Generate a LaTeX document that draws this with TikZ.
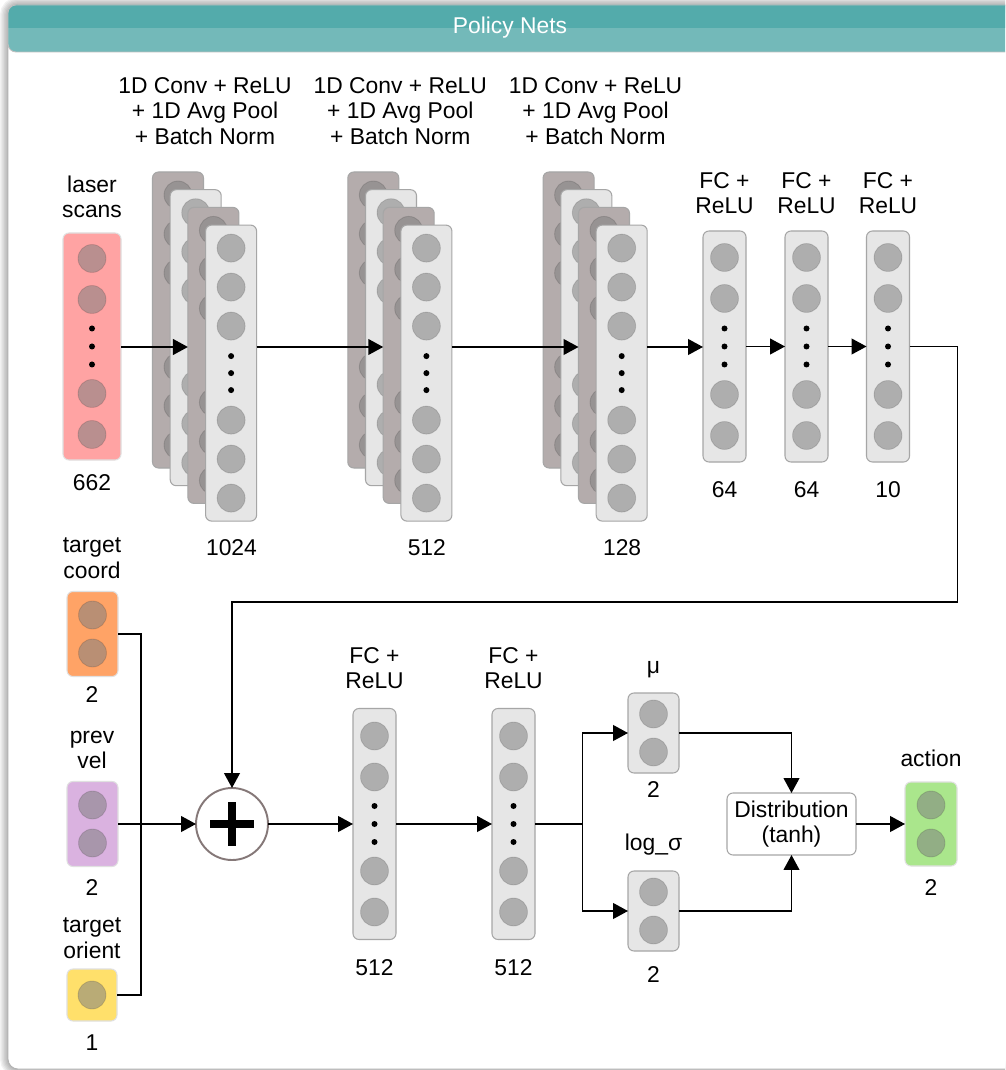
\documentclass[tikz,border=0pt]{standalone}
\usepackage{fontspec}
\setmainfont{Liberation Sans}
\usetikzlibrary{positioning,calc,arrows.meta}

\newlength{\unitpx}
\setlength{\unitpx}{0.02cm}

\definecolor{titledark}{HTML}{53ABAB}
\definecolor{titlelight}{HTML}{73B9B9}
\definecolor{laserred}{HTML}{FFA3A3}
\definecolor{coordorange}{HTML}{FFA366}
\definecolor{velpurple}{HTML}{DAB2E0}
\definecolor{orientyellow}{HTML}{FFE06B}
\definecolor{actiongreen}{HTML}{AAE68C}
\definecolor{layerlight}{HTML}{E6E6E6}
\definecolor{layerdark}{HTML}{B4ACAC}
\definecolor{plusring}{HTML}{857878}

\begin{document}
\begin{tikzpicture}[x=\unitpx, y=-\unitpx, >={Triangle[length=8.5pt,width=9pt]}, line width=0.85pt,
  lbl/.style={font=\fontsize{13}{14.5}\selectfont, align=center, inner sep=0pt},
  col/.style={draw=black!35, fill=layerlight, rounded corners=0.12cm, line width=0.6pt, inner sep=0pt, outer sep=0pt},
  tallcol/.style={col, minimum width=43\unitpx, minimum height=231\unitpx},
  convcol/.style={col, minimum width=51\unitpx, minimum height=296\unitpx},
  pair/.style={col, minimum width=51\unitpx, minimum height=80\unitpx},
  inbox/.style={col, draw=black!12, minimum width=51\unitpx, minimum height=85\unitpx},
  neuron/.style={fill=black!50, fill opacity=0.55, draw=black, draw opacity=0.12, line width=0.5pt},
  every edge/.append style={line width=0.85pt}]

\useasboundingbox (0,0) rectangle (1005,1070);
\clip (0,0) rectangle (1005,1070);

\foreach \k in {1,...,6}
  \draw[black, opacity=0.05, line width=\k*1.5pt, rounded corners=0.2cm] (8,5) rectangle (1040,1069);
\draw[black!30, fill=white, line width=0.5pt, rounded corners=0.2cm] (8,5) rectangle (1040,1069);
\fill[titlelight, rounded corners=0.16cm] (8,5) rectangle (1040,52);
\fill[titledark] (8,28) [rounded corners=0.16cm] -- (8,5) -- (1040,5) [sharp corners] -- (1040,28) -- cycle;
\draw[black!25, line width=0.5pt, rounded corners=0.16cm] (8,5) rectangle (1040,52);
\node[lbl, text=white] (title) at (510,28) {Policy Nets};

\node[col, fill=laserred, draw=black!12, minimum width=58\unitpx, minimum height=227\unitpx] (laser) at (92,346.5) {};
\foreach \dy in {-88,-47,47,88} \path[neuron] (laser) ++(0,\dy) circle[radius=14\unitpx];
\foreach \dy in {-18,0,18} \fill (laser) ++(0,\dy) circle[radius=3\unitpx];
\node[lbl] (laserlbl) at (92,197) {laser\\scans};
\node[lbl] (lasern) at (92,483) {662};

\foreach \s/\units in {0/1024,1/512,2/128} {
  \foreach \l/\tone in {0/layerdark,1/layerlight,2/layerdark,3/layerlight} {
    \node[convcol, fill=\tone] (conv\s-\l) at ({178+195.3*\s+17.7*\l},{320+17.7*\l}) {};
    \foreach \dy in {-125,-86,-47,47,86,125} \path[neuron] (conv\s-\l) ++(0,\dy) circle[radius=14\unitpx];
  }
  \foreach \dy in {-17,0,17} \fill (conv\s-3) ++(0,\dy) circle[radius=3\unitpx];
  \node[lbl] (convlbl\s) at ({205+195.3*\s},111) {1D Conv + ReLU\\+ 1D Avg Pool\\+ Batch Norm};
  \node[lbl] (convsize\s) at ({231.5+195.3*\s},548) {\units};
}

\foreach \i/\x/\units in {1/724.5/64,2/806.5/64,3/888/10} {
  \node[tallcol] (fc\i) at (\x,346.5) {};
  \foreach \dy in {-89,-48,48,89} \path[neuron] (fc\i) ++(0,\dy) circle[radius=14\unitpx];
  \foreach \dy in {-18,0,18} \fill (fc\i) ++(0,\dy) circle[radius=3\unitpx];
  \node[lbl] (fclbl\i) at (\x,193) {FC +\\ReLU};
  \node[lbl] (fcsize\i) at (\x,490) {\units};
}

\coordinate (row) at (0,347);
\path[->] (laser.east |- row) edge (conv0-2.west |- row)
  (conv0-3.east |- row) edge (conv1-2.west |- row)
  (conv1-3.east |- row) edge (conv2-2.west |- row)
  (conv2-3.east |- row) edge (fc1.west |- row)
  (fc1) edge (fc2)
  (fc2) edge (fc3);

\node[inbox, fill=coordorange] (coord) at (92.5,634) {};
\node[inbox, fill=velpurple] (vel) at (92.5,824) {};
\node[inbox, fill=orientyellow, minimum height=52\unitpx, minimum width=50\unitpx] (orient) at (92,995) {};
\foreach \dy in {-19,19} {
  \path[neuron] (coord) ++(0,\dy) circle[radius=14\unitpx];
  \path[neuron] (vel) ++(0,\dy) circle[radius=14\unitpx];
}
\path[neuron] (orient) circle[radius=14\unitpx];
\node[lbl] (coordlbl) at (92,558) {target\\coord};
\node[lbl] (coordn) at (92,695) {2};
\node[lbl] (vellbl) at (92,750) {prev\\vel};
\node[lbl] (veln) at (92,888) {2};
\node[lbl] (orientlbl) at (92,938) {target\\orient};
\node[lbl] (orientn) at (92,1043) {1};

\node[circle, draw=plusring, line width=1.1pt, fill=white, minimum size=72\unitpx, inner sep=0pt, outer sep=0pt] (plus) at (232,824) {};
\draw[line width=4pt] (plus) ++(-22,0) -- ++(44,0) (plus) ++(0,-22) -- ++(0,44);

\foreach \i/\x in {4/374.5,5/513.5} {
  \node[tallcol] (fc\i) at (\x,824) {};
  \foreach \dy in {-88,-47,47,88} \path[neuron] (fc\i) ++(0,\dy) circle[radius=14\unitpx];
  \foreach \dy in {-18,0,18} \fill (fc\i) ++(0,\dy) circle[radius=3\unitpx];
  \node[lbl] (fclbl\i) at (\x,668) {FC +\\ReLU};
  \node[lbl] (fcsize\i) at (\x,968) {512};
}

\node[pair] (mu) at (653.5,733) {};
\node[pair] (logsig) at (653.5,911) {};
\foreach \dy in {-19,19} {
  \path[neuron] (mu) ++(0,\dy) circle[radius=14\unitpx];
  \path[neuron] (logsig) ++(0,\dy) circle[radius=14\unitpx];
}
\node[lbl] (mulbl) at (653.5,670) {μ};
\node[lbl] (mun) at (653.5,790) {2};
\node[lbl] (logsiglbl) at (653.5,845) {log\_σ};
\node[lbl] (logsign) at (653.5,975) {2};

\node[col, lbl, fill=white, draw=black!35, minimum width=129\unitpx, minimum height=62\unitpx] (dist) at (791.5,824) {Distribution\\(tanh)};

\node[inbox, fill=actiongreen, minimum width=52\unitpx, minimum height=84\unitpx] (action) at (931,824) {};
\foreach \dy in {-19,19} \path[neuron] (action) ++(0,\dy) circle[radius=14\unitpx];
\node[lbl] (actionlbl) at (931,758) {action};
\node[lbl] (actionn) at (931,888) {2};

\draw[->] (fc3.east) -- ++(48,0) |- (plus.north |- 0,602) -- (plus.north);
\draw (coord.east) -- ++(23,0) |- (orient.east);
\path[->] (vel) edge (plus)
  (plus) edge (fc4)
  (fc4) edge (fc5)
  (dist) edge (action);
\draw[->] (fc5.east) -- ++(47.5,0) |- (mu.west);
\draw[->] (fc5.east) -- ++(47.5,0) |- (logsig.west);
\draw[->] (mu.east) -| (dist.north);
\draw[->] (logsig.east) -| (dist.south);
\end{tikzpicture}
\end{document}
